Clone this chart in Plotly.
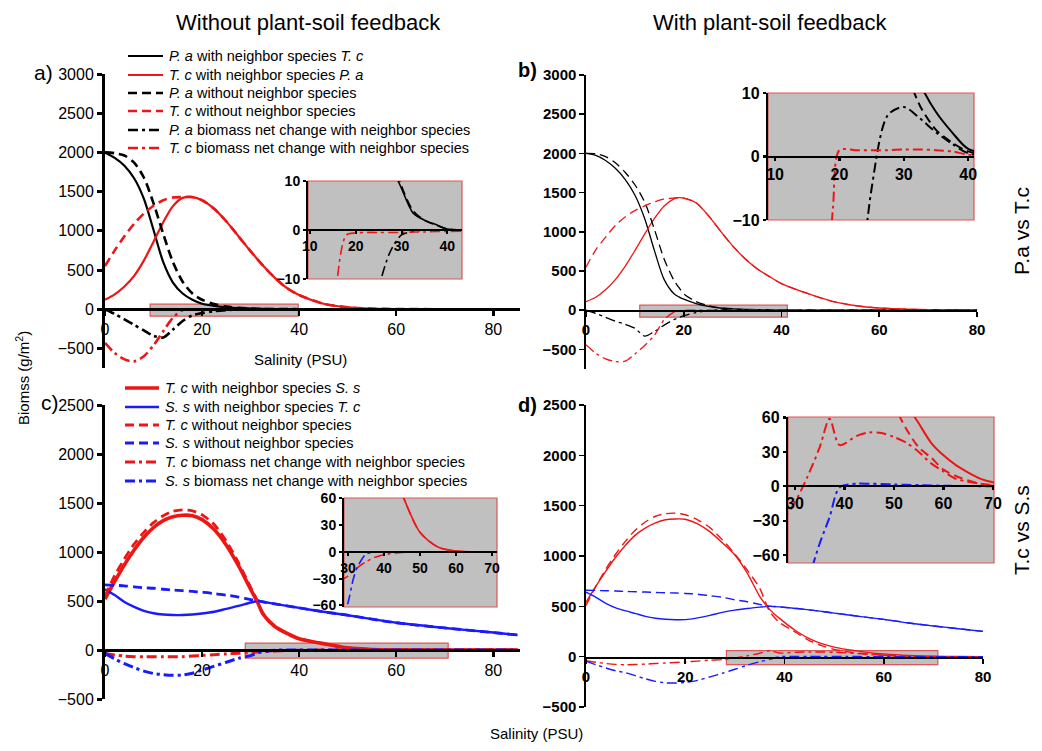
import plotly.graph_objects as go

W, H = 1042, 751
FONT = "Liberation Sans, Arial, sans-serif"
RED = "#ee1515"
BLUE = "#1a1aff"
BLACK = "#000000"
GRAY = "#c0c0c0"
BOXLINE = "#e05555"

# ---------------- data: panel a (P.a vs T.c, without feedback) ----------------
A_X = [0, 2, 4, 6, 8, 10, 12, 14, 16, 18, 20, 22.5, 25, 27.5, 30, 32.5, 35, 37.5, 40, 45, 50, 55, 60, 70, 85]
A_PA_WITH = [2000, 1930, 1830, 1670, 1410, 1010, 600, 340, 200, 120, 70, 42, 25, 14, 8.5, 3.5, 2, 1.1, 0.2, 0, 0, 0, 0, 0, 0]
A_TC_WITH = [120, 190, 290, 425, 620, 860, 1110, 1315, 1420, 1430, 1390, 1280, 1120, 930, 740, 560, 400, 270, 180, 70, 25, 8, 2, 0, 0]
A_PA_WITHOUT = [2000, 1990, 1960, 1870, 1680, 1350, 960, 600, 350, 200, 120, 65, 35, 18, 9, 4, 2, 1, 0.2, 0, 0, 0, 0, 0, 0]
A_TC_WITHOUT = [550, 750, 930, 1090, 1220, 1320, 1390, 1425, 1430, 1430, 1390, 1280, 1120, 930, 740, 560, 400, 270, 180, 70, 25, 8, 2, 0, 0]
A_PA_NET = [0, -60, -130, -200, -270, -340, -360, -260, -150, -80, -50, -25, -12, -4.5, -1, -0.3, 0, 0, 0, 0, 0, 0, 0, 0, 0]
A_TC_NET = [-430, -560, -640, -665, -600, -460, -280, -110, -10, -1, -0.6, -0.5, -0.5, -0.5, -0.5, -0.4, -0.4, -0.3, -0.3, -0.2, 0, 0, 0, 0, 0]

# ---------------- data: panel b (P.a vs T.c, with feedback) ----------------
B_X = [0, 2, 4, 6, 8, 10, 12, 14, 16, 18, 19, 20, 22.5, 25, 27.5, 30, 32.5, 35, 37.5, 40, 45, 50, 55, 60, 70, 80]
B_PA_WITH = [2000, 1975, 1910, 1810, 1670, 1470, 1170, 760, 390, 210, 170, 140, 85, 50, 28, 18, 11.5, 7, 3.8, 1.2, 0.2, 0, 0, 0, 0, 0]
B_TC_WITH = [110, 165, 260, 390, 560, 760, 970, 1170, 1330, 1420, 1435, 1430, 1370, 1210, 1010, 820, 660, 530, 430, 340, 220, 120, 60, 28, 6, 1]
B_PA_WITHOUT = [2000, 1995, 1960, 1880, 1760, 1600, 1380, 1030, 650, 380, 290, 210, 110, 60, 30, 15, 8, 4.2, 2.2, 0.8, 0.1, 0, 0, 0, 0, 0]
B_TC_WITHOUT = [550, 770, 930, 1080, 1190, 1270, 1330, 1380, 1420, 1432, 1436, 1430, 1370, 1210, 1010, 820, 660, 530, 430, 340, 220, 120, 60, 28, 6, 1]
B_PA_NET = [0, -40, -90, -140, -180, -230, -330, -270, -190, -120, -95, -70, -30, -5, 6.5, 7.8, 6, 3.8, 2, 0.5, 0, 0, 0, 0, 0, 0]
B_TC_NET = [-440, -550, -620, -655, -650, -560, -450, -320, -120, -25, -8, 1, 1, 1, 1, 1.1, 1.1, 1, 0.8, 0.3, 0, 0, 0, 0, 0, 0]

# ---------------- data: panel c (T.c vs S.s, without feedback) ----------------
C_X = [0, 2, 4, 6, 8, 10, 12, 14, 16, 18, 20, 22.5, 25, 27.5, 30, 31.5, 32.5, 35, 37.5, 40, 45, 50, 55, 60, 70, 80, 85]
C_TC_WITH = [520, 700, 870, 1020, 1150, 1250, 1320, 1360, 1375, 1370, 1330, 1230, 1070, 860, 620, 480, 370, 240, 170, 115, 65, 22, 5.5, 1, 0, 0, 0]
C_SS_WITH = [620, 560, 490, 440, 400, 375, 362, 357, 357, 362, 372, 390, 420, 450, 485, 500, 492, 470, 450, 430, 390, 355, 315, 278, 225, 178, 153]
C_TC_WITHOUT = [550, 760, 930, 1080, 1200, 1300, 1370, 1415, 1430, 1420, 1380, 1280, 1110, 890, 640, 490, 380, 240, 165, 115, 65, 22, 5.5, 1, 0, 0, 0]
C_SS_WITHOUT = [665, 660, 655, 645, 635, 630, 620, 612, 605, 598, 590, 575, 560, 540, 515, 503, 492, 470, 450, 430, 390, 355, 315, 278, 225, 178, 153]
C_TC_NET = [-35, -50, -62, -68, -70, -70, -70, -69, -68, -62, -55, -48, -40, -33, -27, -21, -18, -11, -6, -3, -0.5, 0, 0, 0, 0, 0, 0]
C_SS_NET = [-35, -90, -140, -180, -215, -240, -252, -258, -255, -238, -205, -165, -125, -85, -57, -30, -18, -2.5, -0.3, 0, 0, 0, 0, 0, 0, 0, 0]

# ---------------- data: panel d (T.c vs S.s, with feedback) ----------------
D_X = [0, 2, 4, 6, 8, 10, 12, 14, 16, 18, 20, 22.5, 25, 27.5, 30, 32.5, 35, 37, 39, 42.5, 45, 47.5, 50, 52.5, 55, 57.5, 60, 62.5, 65, 67.5, 70, 75, 80]
D_TC_WITH = [540, 700, 850, 990, 1110, 1210, 1280, 1330, 1360, 1368, 1365, 1320, 1240, 1130, 1010, 830, 600, 470, 380, 250, 180, 130, 95, 72, 55, 38, 27, 18.5, 12, 6.5, 3.5, 1, 0]
D_SS_WITH = [640, 590, 530, 485, 455, 428, 400, 382, 372, 367, 368, 385, 410, 440, 462, 478, 492, 500, 495, 478, 465, 450, 433, 417, 400, 385, 370, 353, 335, 320, 305, 278, 251]
D_TC_WITHOUT = [510, 700, 870, 1020, 1150, 1260, 1340, 1395, 1420, 1425, 1410, 1360, 1280, 1160, 1020, 860, 680, 450, 340, 235, 160, 110, 72, 50, 34, 25, 14.5, 9, 5, 2.3, 1, 0.2, 0]
D_SS_WITHOUT = [660, 658, 655, 652, 648, 645, 642, 638, 635, 632, 628, 620, 605, 590, 565, 545, 520, 502, 495, 478, 465, 450, 433, 417, 400, 385, 370, 353, 335, 320, 305, 278, 251]
D_TC_NET = [-40, -55, -68, -77, -80, -78, -74, -68, -63, -58, -52, -44, -35, -29, -14, 8, 34, 59, 36, 44, 47, 46.5, 43, 38, 30, 20, 13, 6.5, 4, 2.3, 0.5, 0, 0]
D_SS_NET = [-46, -80, -112, -140, -160, -190, -220, -245, -260, -262, -256, -235, -200, -165, -125, -85, -50, -27, -1, 2.3, 2.2, 2, 1.6, 1.3, 1, 0.7, 0.5, 0.3, 0.2, 0.1, 0, 0, 0]

# ---------------- labels ----------------
LEG_A = [
    "<i>P. a</i> with neighbor species <i>T. c</i>",
    "<i>T. c</i> with neighbor species <i>P. a</i>",
    "<i>P. a</i> without neighbor species",
    "<i>T. c</i> without neighbor species",
    "<i>P. a</i> biomass net change with neighbor species",
    "<i>T. c</i> biomass net change with neighbor species",
]
LEG_C = [
    "<i>T. c</i> with neighbor species <i>S. s</i>",
    "<i>S. s</i> with neighbor species <i>T. c</i>",
    "<i>T. c</i> without neighbor species",
    "<i>S. s</i> without neighbor species",
    "<i>T. c</i> biomass net change with neighbor species",
    "<i>S. s</i> biomass net change with neighbor species",
]
MAIN_XTICKS = [0, 20, 40, 60, 80]
AB_YTICKS = [-500, 0, 500, 1000, 1500, 2000, 2500, 3000]
CD_YTICKS = [-500, 0, 500, 1000, 1500, 2000, 2500]

DASH = "9px,5px"
DASHDOT = "10px,4px,3px,4px"

fig = go.Figure()


def fx(p):
    return p / W


def fy(p):
    return 1 - p / H


def add(x, y, color, dash, width, xa, ya, name=""):
    fig.add_trace(go.Scatter(
        x=x, y=y, mode="lines", name=name,
        line=dict(color=color, dash=dash, width=width, shape="spline", smoothing=0.8),
        xaxis=xa, yaxis=ya, showlegend=False, hoverinfo="skip"))


# Panel a + inset (x5/y5)
A_STYLES = [(BLACK, "solid", 2.2), (RED, "solid", 2.2), (BLACK, DASH, 2.6),
            (RED, DASH, 2.6), (BLACK, DASHDOT, 2.6), (RED, DASHDOT, 2.6)]
A_SERIES = [A_PA_WITH, A_TC_WITH, A_PA_WITHOUT, A_TC_WITHOUT, A_PA_NET, A_TC_NET]
for xa, ya, inset in [("x", "y", False), ("x5", "y5", True)]:
    for ys, (c, d, w), nm in zip(A_SERIES, A_STYLES, LEG_A):
        add(A_X, ys, c, d, 1.6 if inset else w, xa, ya, nm)

# Panel b + inset (x6/y6)
B_SERIES = [B_PA_WITH, B_TC_WITH, B_PA_WITHOUT, B_TC_WITHOUT, B_PA_NET, B_TC_NET]
for xa, ya, w in [("x2", "y2", 1.3), ("x6", "y6", 2.0)]:
    for ys, (c, d, _), nm in zip(B_SERIES, A_STYLES, LEG_A):
        add(B_X, ys, c, d, w, xa, ya, nm)

# Panel c + inset (x7/y7)
C_STYLES = [(RED, "solid", 3.6), (BLUE, "solid", 2.4), (RED, DASH, 2.8),
            (BLUE, DASH, 2.8), (RED, DASHDOT, 3.0), (BLUE, DASHDOT, 3.0)]
C_SERIES = [C_TC_WITH, C_SS_WITH, C_TC_WITHOUT, C_SS_WITHOUT, C_TC_NET, C_SS_NET]
for xa, ya, inset in [("x3", "y3", False), ("x7", "y7", True)]:
    for ys, (c, d, w), nm in zip(C_SERIES, C_STYLES, LEG_C):
        add(C_X, ys, c, d, 1.6 if inset else w, xa, ya, nm)

# Panel d + inset (x8/y8)
D_SERIES = [D_TC_WITH, D_SS_WITH, D_TC_WITHOUT, D_SS_WITHOUT, D_TC_NET, D_SS_NET]
for xa, ya, w in [("x4", "y4", 1.4), ("x8", "y8", 2.0)]:
    for ys, (c, d, _), nm in zip(D_SERIES, C_STYLES, LEG_C):
        add(D_X, ys, c, d, w, xa, ya, nm)


def xaxis(dom, rng, zero_px, ticks, lw, size, bold, ticklen=5):
    return dict(domain=[fx(dom[0]), fx(dom[1])], range=rng, anchor="free", position=fy(zero_px),
                showline=True, linecolor=BLACK, linewidth=lw, ticks="outside", ticklen=ticklen,
                tickwidth=lw, tickcolor=BLACK, tickvals=ticks, showgrid=False, zeroline=False,
                fixedrange=True, automargin=False,
                tickfont=dict(family=FONT, size=size, color=BLACK, weight="bold" if bold else "normal"))


def yaxis(dom, rng, anchor, ticks, lw, size, bold, ticklen=5):
    return dict(domain=[fy(dom[1]), fy(dom[0])], range=rng, anchor=anchor,
                showline=True, linecolor=BLACK, linewidth=lw, ticks="outside", ticklen=ticklen,
                tickwidth=lw, tickcolor=BLACK, tickvals=ticks, showgrid=False, zeroline=False,
                fixedrange=True, automargin=False,
                tickfont=dict(family=FONT, size=size, color=BLACK, weight="bold" if bold else "normal"))


layout = dict(
    width=W, height=H, margin=dict(l=0, r=0, t=0, b=0, pad=0, autoexpand=False),
    paper_bgcolor="white", plot_bgcolor="rgba(0,0,0,0)",
    font=dict(family=FONT, color=BLACK),
    showlegend=False,
    xaxis=xaxis((105, 520), [0, 85.5], 309, MAIN_XTICKS, 2.5, 16, False),
    yaxis=yaxis((74, 368), [-750, 3000], "x", AB_YTICKS, 3, 16, False),
    xaxis2=xaxis((586, 977), [0, 80], 310, MAIN_XTICKS, 1.6, 15, True),
    yaxis2=yaxis((75, 369), [-750, 3000], "x2", AB_YTICKS, 1.6, 15, True),
    xaxis3=xaxis((105, 520), [0, 85.5], 650, MAIN_XTICKS, 2.5, 16, False),
    yaxis3=yaxis((405, 699), [-500, 2500], "x3", CD_YTICKS, 3, 16, False),
    xaxis4=xaxis((586, 983), [0, 80], 657, MAIN_XTICKS, 1.6, 15, True),
    yaxis4=yaxis((405, 707), [-500, 2500], "x4", CD_YTICKS, 1.6, 15, True),
    xaxis5=xaxis((308, 462), [9.6, 43.2], 230, [10, 20, 30, 40], 2, 14, True, 3),
    yaxis5=yaxis((181, 279), [-10, 10], "x5", [-10, 0, 10], 2, 14, True, 3),
    xaxis6=xaxis((768, 974), [8.9, 40.9], 157, [10, 20, 30, 40], 2.2, 16, True, 3),
    yaxis6=yaxis((93, 220), [-10, 10], "x6", [-10, 0, 10], 2.2, 16, True, 3),
    xaxis7=xaxis((344, 497), [28.9, 71.4], 552, [30, 40, 50, 60, 70], 2, 14, True, 3),
    yaxis7=yaxis((498, 607), [-61.7, 60.5], "x7", [-60, -30, 0, 30, 60], 2, 14, True, 3),
    xaxis8=xaxis((788, 994), [28.6, 70.2], 486, [30, 40, 50, 60, 70], 2.2, 16, True, 3),
    yaxis8=yaxis((417, 563), [-67, 60.5], "x8", [-60, -30, 0, 30, 60], 2.2, 16, True, 3),
)

shapes = []
# zoom windows in main panels
for xr, yr, x0, x1, y0, y1 in [("x", "y", 9.3, 39.8, -89, 64), ("x2", "y2", 11, 41.2, -89, 64),
                               ("x3", "y3", 28.9, 70.7, -82, 71), ("x4", "y4", 28.3, 70.9, -79, 60)]:
    shapes.append(dict(type="rect", xref=xr, yref=yr, x0=x0, x1=x1, y0=y0, y1=y1,
                       fillcolor=GRAY, line=dict(color=BOXLINE, width=1.2), layer="below"))
# inset backgrounds
for n in (5, 6, 7, 8):
    shapes.append(dict(type="rect", xref=f"x{n} domain", yref=f"y{n} domain", x0=0, x1=1, y0=0, y1=1,
                       fillcolor=GRAY, line=dict(color=BOXLINE, width=1.2), layer="below"))


def ann(text, x, y, size, angle=0, bold=False, xanchor="center"):
    return dict(text=text, x=fx(x), y=fy(y), xref="paper", yref="paper", showarrow=False,
                xanchor=xanchor, yanchor="middle", textangle=angle,
                font=dict(family=FONT, size=size, color=BLACK, weight="bold" if bold else "normal"))


annotations = [
    ann("Without plant-soil feedback", 308, 22, 22),
    ann("With plant-soil feedback", 770, 22, 22),
    ann("a)", 43, 73, 21),
    ann("b)", 527, 70, 20, bold=True),
    ann("c)", 50, 402, 21),
    ann("d)", 527, 405, 20, bold=True),
    ann("P.a vs T.c", 1021, 231, 21, angle=-90),
    ann("T.c vs S.s", 1021, 530, 21, angle=-90),
    ann("Biomss (g/m<sup>2</sup>)", 22, 378, 15, angle=-90),
    ann("Salinity (PSU)", 300, 359, 15),
    ann("Salinity (PSU)", 536, 733, 15),
]

# hand-placed legends (line sample + text)
LEG_A_ROWS = [56, 75, 93, 111, 130, 148]
LEG_C_ROWS = [388, 407, 425, 443, 462, 481]
for rows, labels, styles, lx0, lx1, tx in [(LEG_A_ROWS, LEG_A, A_STYLES, 128, 163, 167),
                                           (LEG_C_ROWS, LEG_C, C_STYLES, 125, 159, 163)]:
    for yy, lab, (c, d, w) in zip(rows, labels, styles):
        shapes.append(dict(type="line", xref="paper", yref="paper", x0=fx(lx0), x1=fx(lx1),
                           y0=fy(yy), y1=fy(yy), line=dict(color=c, width=w, dash=d)))
        annotations.append(ann(lab, tx, yy, 14.5, xanchor="left"))

layout["shapes"] = shapes
layout["annotations"] = annotations

fig.update_layout(**layout)
fig.write_html(
    "out.html",
    config={"displayModeBar": False, "staticPlot": True},
    post_script="document.body.style.margin='0px';document.body.style.padding='0px';"
                "document.body.style.overflow='hidden';",
)
